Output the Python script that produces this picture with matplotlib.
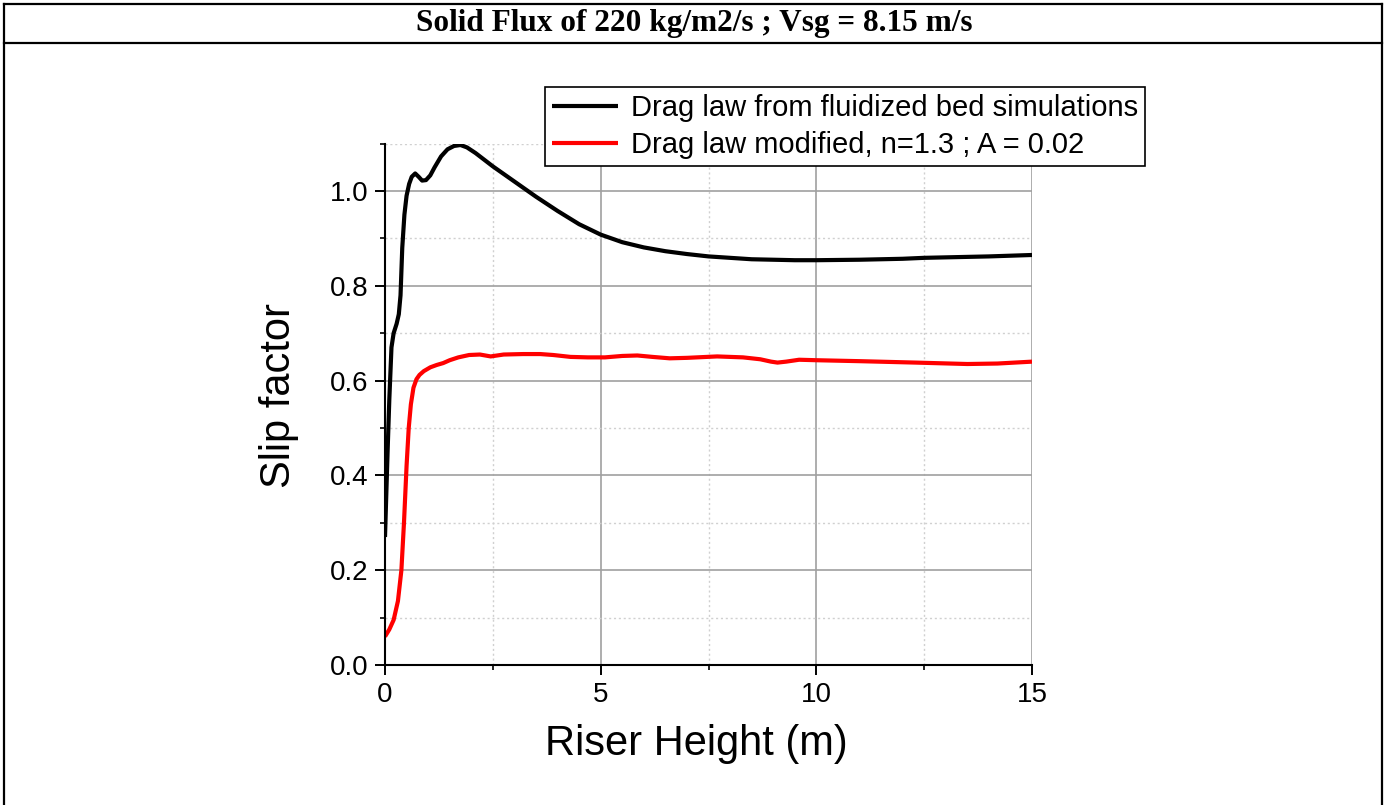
import matplotlib
matplotlib.use("Agg")
import matplotlib.pyplot as plt
from matplotlib.lines import Line2D
from matplotlib.ticker import MultipleLocator

plt.rcParams['font.family'] = ['Liberation Sans', 'DejaVu Sans']

# ---- data ----
x_black = [0.0, 0.03, 0.06, 0.1, 0.15, 0.2, 0.27, 0.32, 0.36, 0.4, 0.45, 0.5, 0.56,
           0.62, 0.7, 0.78, 0.86, 0.95, 1.05, 1.15, 1.3, 1.45, 1.6, 1.75, 1.9, 2.1,
           2.5, 3.0, 3.5, 4.0, 4.5, 5.0, 5.5, 6.0, 6.5, 7.0, 7.5, 8.0, 8.5, 9.0,
           9.5, 10.0, 11.0, 12.0, 12.5, 13.0, 14.0, 15.0]
y_black = [0.27, 0.36, 0.45, 0.56, 0.67, 0.70, 0.72, 0.74, 0.78, 0.88, 0.95, 0.99, 1.015,
           1.03, 1.037, 1.03, 1.022, 1.023, 1.033, 1.05, 1.073, 1.088, 1.095, 1.097, 1.092, 1.08,
           1.052, 1.02, 0.988, 0.958, 0.93, 0.908, 0.892, 0.881, 0.873, 0.867, 0.862, 0.859, 0.856, 0.855,
           0.854, 0.854, 0.855, 0.857, 0.859, 0.86, 0.862, 0.865]

x_red = [0.0, 0.1, 0.2, 0.3, 0.38, 0.44, 0.5, 0.55, 0.6, 0.66, 0.73, 0.8, 0.9, 1.05,
         1.2, 1.35, 1.5, 1.7, 1.95, 2.2, 2.45, 2.75, 3.2, 3.6, 3.9, 4.3, 4.7, 5.1,
         5.5, 5.85, 6.2, 6.6, 7.0, 7.7, 8.3, 8.7, 8.95, 9.1, 9.3, 9.6, 10.0, 11.0,
         12.3, 13.5, 14.2, 15.0]
y_red = [0.06, 0.075, 0.095, 0.135, 0.2, 0.3, 0.42, 0.5, 0.55, 0.585, 0.603, 0.612, 0.62, 0.628,
         0.633, 0.637, 0.643, 0.649, 0.654, 0.655, 0.651, 0.655, 0.656, 0.656, 0.654, 0.650, 0.649, 0.649,
         0.652, 0.653, 0.650, 0.647, 0.648, 0.651, 0.649, 0.645, 0.640, 0.638, 0.640, 0.644, 0.643, 0.641,
         0.638, 0.635, 0.636, 0.640]

label_black = "Drag law from fluidized bed simulations"
label_red = "Drag law modified, n=1.3 ; A = 0.02"
title = "Solid Flux of 220 kg/m2/s ; Vsg = 8.15 m/s"
x_ticks = [0, 5, 10, 15]
y_ticks = [0.0, 0.2, 0.4, 0.6, 0.8, 1.0]

W, H = 1389, 805
fig = plt.figure(figsize=(W / 100, H / 100), dpi=100)
ax = fig.add_axes([385 / W, 1 - 665 / H, (1032 - 385) / W, (665 - 143.6) / H])

ax.plot(x_black, y_black, color='black', lw=3.0, label=label_black,
        solid_joinstyle='round', solid_capstyle='butt')
ax.plot(x_red, y_red, color='#ff0000', lw=3.0, label=label_red,
        solid_joinstyle='round', solid_capstyle='butt')

ax.set_xlim(0, 15)
ax.set_ylim(0, 1.1)
ax.set_xticks(x_ticks)
ax.set_xticklabels([str(t) for t in x_ticks])
ax.set_yticks(y_ticks)
ax.set_yticklabels([f"{t:.1f}" for t in y_ticks])
ax.xaxis.set_minor_locator(MultipleLocator(2.5))
ax.yaxis.set_minor_locator(MultipleLocator(0.1))

ax.set_axisbelow(True)
ax.grid(which='major', color='#a0a0a0', lw=1.2, ls='-')
ax.grid(which='minor', color='#d0d0d0', lw=1.0, ls=(0, (1.5, 2)))

for s in ['top', 'right']:
    ax.spines[s].set_visible(False)
for s in ['left', 'bottom']:
    ax.spines[s].set_linewidth(1.5)

ax.tick_params(which='major', direction='out', length=7, width=1.4, labelsize=20, pad=5)
ax.tick_params(which='minor', direction='out', length=3.5, width=1.2)
ax.tick_params(axis='x', which='major', pad=5)

ax.set_xlabel("Riser Height (m)", fontsize=30)
ax.set_ylabel("Slip factor", fontsize=30)
ax.xaxis.set_label_coords((696 - 385) / 647, (665 - 724) / 521.4)
ax.yaxis.set_label_coords((299 - 385) / 647, (665 - 395) / 521.4)

leg = fig.legend(loc='upper left', bbox_to_anchor=(545 / W, 1 - 87 / H),
                 borderaxespad=0, fontsize=21, frameon=True, fancybox=False,
                 edgecolor='black', framealpha=1, handlelength=2.25, handletextpad=0.45,
                 labelspacing=0.3, borderpad=0.25)
leg.get_frame().set_linewidth(1.2)

fig.text(0.5, 1 - 23 / H, title, ha='center', va='center', fontsize=22.5,
         fontweight='bold', family=['Liberation Serif', 'DejaVu Serif'])

lw_b = 1.6
fig.add_artist(Line2D([3.7 / W, 3.7 / W], [1 - 4.3 / H, -0.1], transform=fig.transFigure,
                      color='black', lw=lw_b, clip_on=False))
fig.add_artist(Line2D([1382 / W, 1382 / W], [1 - 4.3 / H, -0.1], transform=fig.transFigure,
                      color='black', lw=lw_b, clip_on=False))
fig.add_artist(Line2D([3.7 / W, 1382 / W], [1 - 4.3 / H, 1 - 4.3 / H], transform=fig.transFigure,
                      color='black', lw=lw_b, clip_on=False))
fig.add_artist(Line2D([3.7 / W, 1382 / W], [1 - 42.7 / H, 1 - 42.7 / H], transform=fig.transFigure,
                      color='black', lw=lw_b, clip_on=False))

fig.savefig("out.png", dpi=100)
